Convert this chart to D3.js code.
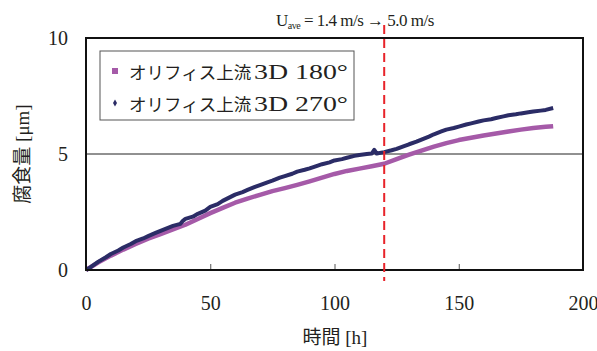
<!DOCTYPE html>
<html>
<head>
<meta charset="utf-8">
<script src="https://cdn.jsdelivr.net/npm/d3@7"></script>
<style>
  body { margin: 0; background: #fff; }
  svg { display: block; }
</style>
</head>
<body>
<svg id="drawing_region"></svg>
<script>
// hours and corrosion depth [um]
const hours180 = [0, 5, 10, 15, 20, 25, 30, 35, 40, 45, 50, 55, 60, 65, 70, 75, 80, 85, 90, 95,
                  100, 105, 110, 115, 120, 125, 130, 135, 140, 145, 150, 155, 160, 165, 170, 175, 180, 185, 188];
const values180 = [0, 0.33, 0.62, 0.88, 1.12, 1.35, 1.55, 1.75, 1.95, 2.2, 2.45, 2.68, 2.9, 3.08, 3.24, 3.4, 3.53, 3.67, 3.82, 3.98,
                   4.14, 4.27, 4.37, 4.47, 4.58, 4.78, 4.97, 5.15, 5.32, 5.47, 5.6, 5.7, 5.8, 5.88, 5.97, 6.05, 6.12, 6.17, 6.2];

const hours270 = [0, 2, 5, 8, 10, 13, 15, 18, 20, 23, 25, 28, 30, 33, 35, 38, 39, 40, 43, 45, 48, 50, 53, 55, 58, 60, 63, 65, 68, 70,
                  73, 75, 78, 80, 83, 85, 88, 90, 93, 95, 98, 100, 103, 105, 108, 110, 113, 115, 116, 117, 120, 123, 125, 128, 130,
                  133, 135, 138, 140, 143, 145, 148, 150, 153, 155, 158, 160, 163, 165, 168, 170, 173, 175, 178, 180, 183, 185, 188];
const values270 = [0, 0.13, 0.36, 0.55, 0.69, 0.84, 0.97, 1.12, 1.24, 1.36, 1.46, 1.6, 1.69, 1.82, 1.9, 1.99, 2.12, 2.2, 2.3, 2.42, 2.56, 2.72, 2.84, 2.98, 3.14, 3.25, 3.36, 3.45, 3.58, 3.66,
                   3.78, 3.85, 3.98, 4.05, 4.15, 4.24, 4.32, 4.38, 4.49, 4.56, 4.64, 4.72, 4.78, 4.84, 4.92, 4.96, 5.0, 5.02, 5.18, 5.02, 5.08, 5.16, 5.22, 5.34, 5.42,
                   5.53, 5.62, 5.75, 5.85, 5.97, 6.05, 6.12, 6.18, 6.27, 6.32, 6.4, 6.45, 6.5, 6.55, 6.62, 6.67, 6.71, 6.75, 6.8, 6.83, 6.87, 6.9, 6.98];

const xTicks = [0, 50, 100, 150, 200];
const yTicks = [0, 5, 10];
const legendNames = ['オリフィス上流', 'オリフィス上流'];
const legendTags = ['3D 180°', '3D 270°'];
const switchHour = 120;

const W = 597, H = 351;
const margin = {top: 38, right: 14, bottom: 81, left: 86};
const innerW = W - margin.left - margin.right;
const innerH = H - margin.top - margin.bottom;

const serif = '"Liberation Serif", "Times New Roman", serif';
const cjk = '"Liberation Serif", "Noto Sans CJK JP", serif';

const svg = d3.select('#drawing_region')
    .attr('width', W)
    .attr('height', H);

const chart = svg.append('g')
    .attr('transform', `translate(${margin.left}, ${margin.top})`);

const xscale = d3.scaleLinear().domain([0, 200]).range([0, innerW]);
const yscale = d3.scaleLinear().domain([0, 10]).range([innerH, 0]);

// gridline at 5
chart.append('line')
    .attr('x1', 0).attr('x2', innerW)
    .attr('y1', yscale(5)).attr('y2', yscale(5))
    .attr('stroke', '#222').attr('stroke-width', 1);

// axes
const xaxis = d3.axisBottom(xscale).tickValues(xTicks).tickSizeInner(-6).tickSizeOuter(0).tickPadding(26);
const xg = chart.append('g')
    .attr('transform', `translate(0, ${innerH})`)
    .call(xaxis);
xg.select('.domain').remove();
xg.selectAll('line').attr('stroke', '#555');
xg.selectAll('text').attr('font-family', serif).attr('font-size', 20).attr('fill', '#231f20');

const yaxis = d3.axisLeft(yscale).tickValues(yTicks).tickSize(0).tickPadding(18);
const yg = chart.append('g').call(yaxis);
yg.select('.domain').remove();
yg.selectAll('text').attr('font-family', serif).attr('font-size', 20).attr('fill', '#231f20');

// lines
const line = d3.line()
    .x(d => xscale(d[0]))
    .y(d => yscale(d[1]));

chart.append('path')
    .datum(hours180.map((h, i) => [h, values180[i]]))
    .attr('fill', 'none')
    .attr('stroke', '#a55aa8')
    .attr('stroke-width', 4.5)
    .attr('stroke-linejoin', 'round')
    .attr('d', line);

chart.append('path')
    .datum(hours270.map((h, i) => [h, values270[i]]))
    .attr('fill', 'none')
    .attr('stroke', '#2b2c66')
    .attr('stroke-width', 4)
    .attr('stroke-linejoin', 'round')
    .attr('d', line);

// frame
chart.append('rect')
    .attr('x', 0).attr('y', 0)
    .attr('width', innerW).attr('height', innerH)
    .attr('fill', 'none')
    .attr('stroke', '#111').attr('stroke-width', 2);

// velocity switch line
chart.append('line')
    .attr('x1', xscale(switchHour)).attr('x2', xscale(switchHour))
    .attr('y1', -13).attr('y2', innerH + 11)
    .attr('stroke', '#e8232a')
    .attr('stroke-width', 2)
    .attr('stroke-dasharray', '9,5');

// annotation
const note = svg.append('text')
    .attr('x', 276).attr('y', 26)
    .attr('font-family', serif)
    .attr('font-size', 17)
    .attr('letter-spacing', -0.5)
    .attr('fill', '#231f20');
note.append('tspan').text('U');
note.append('tspan').attr('font-size', 10).attr('dy', 3).text('ave');
note.append('tspan').attr('dy', -3).text(' = 1.4 m/s → 5.0 m/s');

// legend
const legend = svg.append('g');
legend.append('rect')
    .attr('x', 100).attr('y', 51)
    .attr('width', 254).attr('height', 69)
    .attr('fill', '#fff')
    .attr('stroke', '#555').attr('stroke-width', 1);

legend.append('rect')
    .attr('x', 112).attr('y', 68)
    .attr('width', 6).attr('height', 6)
    .attr('fill', '#a55aa8');
legend.append('path')
    .attr('d', d3.symbol(d3.symbolDiamond, 14)())
    .attr('transform', 'translate(115, 103)')
    .attr('fill', '#2b2c66');

legendNames.forEach((t, i) => {
    const lt = legend.append('text')
        .attr('y', 79 + i * 32)
        .attr('font-family', cjk)
        .attr('font-size', 17.5)
        .attr('fill', '#231f20');
    lt.append('tspan').attr('x', 129).text(t);
    lt.append('tspan')
        .attr('x', 254)
        .attr('font-size', 22)
        .attr('textLength', 94)
        .attr('lengthAdjust', 'spacingAndGlyphs')
        .text(legendTags[i]);
});

// axis titles
svg.append('text')
    .attr('x', 335).attr('y', 344)
    .attr('text-anchor', 'middle')
    .attr('font-family', cjk)
    .attr('font-size', 19)
    .attr('fill', '#231f20')
    .text('時間 [h]');

svg.append('text')
    .attr('transform', 'rotate(-90)')
    .attr('x', -154).attr('y', 29)
    .attr('text-anchor', 'middle')
    .attr('font-family', cjk)
    .attr('font-size', 19)
    .attr('fill', '#231f20')
    .text('腐食量 [μm]');
</script>
</body>
</html>
